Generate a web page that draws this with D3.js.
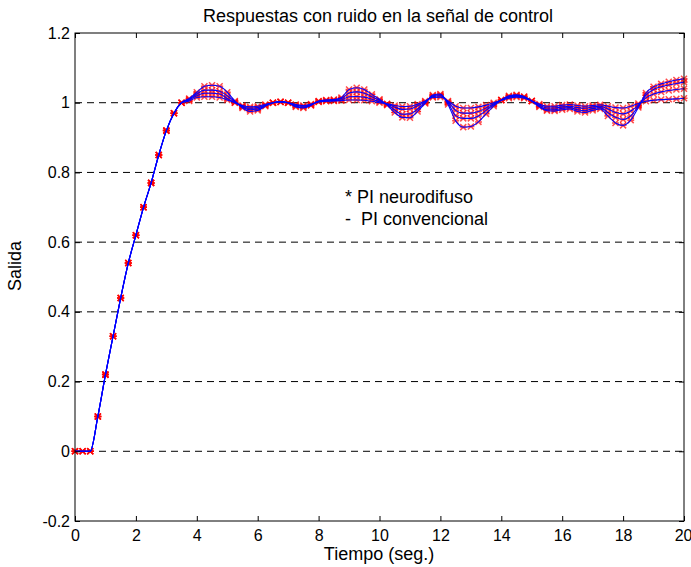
<!DOCTYPE html>
<html>
<head>
<meta charset="utf-8">
<script src="https://cdn.jsdelivr.net/npm/d3@7"></script>
<style>
  body { margin: 0; background: #fff; }
  text { font-family: "Liberation Sans", Arial, sans-serif; }
</style>
</head>
<body>
<div id="chart"></div>
<script>
var width = 691, height = 567;

// time axis (seg.)
var times = [0,0.25,0.5,0.75,1,1.25,1.5,1.75,2,2.25,2.5,2.75,3,3.25,3.5,3.75,
             4,4.25,4.5,4.75,5,5.25,5.5,5.75,6,6.25,6.5,6.75,7,7.25,7.5,7.75,
             8,8.25,8.5,8.75,9,9.25,9.5,9.75,10,10.25,10.5,10.75,11,11.25,11.5,11.75,
             12,12.25,12.5,12.75,13,13.25,13.5,13.75,14,14.25,14.5,14.75,15,15.25,15.5,15.75,
             16,16.25,16.5,16.75,17,17.25,17.5,17.75,18,18.25,18.5,18.75,19,19.25,19.5,19.75,
             20];

// responses for the different noise levels (smallest to largest deviation)
var respA = [0,0,0,0.10,0.22,0.33,0.44,0.54,0.62,0.70,0.77,0.85,0.92,0.97,1.00,1.005,
             1.015,1.017,1.017,1.015,1.008,1.0,0.992,0.988,0.99,0.995,1.0,1.002,1.0,0.995,0.992,0.996,
             1.002,1.004,1.005,1.006,1.008,1.008,1.007,1.004,1.0,0.997,0.992,0.989,0.99,0.996,1.005,1.015,
             1.016,1.005,0.99,0.985,0.985,0.988,0.993,1.0,1.007,1.013,1.016,1.013,1.005,0.996,0.99,0.99,
             0.993,0.995,0.992,0.99,0.992,0.994,0.99,0.986,0.985,0.99,0.998,1.004,1.007,1.009,1.01,1.011,
             1.013];
var respB = [0,0,0,0.10,0.22,0.33,0.44,0.54,0.62,0.70,0.77,0.85,0.92,0.97,1.00,1.008,
             1.02,1.027,1.027,1.025,1.012,1.0,0.99,0.984,0.986,0.993,1.0,1.002,1.0,0.993,0.99,0.995,
             1.003,1.005,1.006,1.008,1.017,1.018,1.016,1.01,1.003,0.996,0.987,0.981,0.982,0.991,1.003,1.017,
             1.02,1.003,0.978,0.97,0.97,0.975,0.985,0.997,1.008,1.016,1.019,1.015,1.005,0.993,0.985,0.985,
             0.988,0.99,0.986,0.984,0.988,0.99,0.982,0.972,0.968,0.976,0.993,1.014,1.025,1.031,1.035,1.038,
             1.04];
var respC = [0,0,0,0.10,0.22,0.33,0.44,0.54,0.62,0.70,0.77,0.85,0.92,0.97,1.00,1.01,
             1.025,1.036,1.036,1.033,1.02,1.003,0.988,0.98,0.982,0.992,1.0,1.003,1.0,0.99,0.987,0.993,
             1.004,1.007,1.008,1.012,1.028,1.031,1.027,1.017,1.007,0.995,0.979,0.967,0.968,0.982,1.0,1.02,
             1.023,1.0,0.963,0.955,0.955,0.962,0.978,0.994,1.008,1.018,1.021,1.017,1.005,0.99,0.98,0.98,
             0.984,0.986,0.98,0.977,0.983,0.986,0.972,0.958,0.952,0.962,0.99,1.022,1.038,1.046,1.051,1.055,
             1.059];
var respD = [0,0,0,0.10,0.22,0.33,0.44,0.54,0.62,0.70,0.77,0.85,0.92,0.97,1.00,1.012,
             1.03,1.047,1.05,1.047,1.03,1.005,0.985,0.975,0.978,0.99,1.0,1.003,1.0,0.988,0.985,0.992,
             1.005,1.008,1.009,1.015,1.038,1.043,1.038,1.024,1.01,0.993,0.972,0.958,0.957,0.975,0.998,1.022,
             1.025,0.995,0.948,0.93,0.932,0.945,0.968,0.99,1.008,1.02,1.023,1.018,1.005,0.988,0.977,0.976,
             0.98,0.982,0.975,0.972,0.978,0.982,0.962,0.942,0.935,0.95,0.986,1.028,1.046,1.054,1.06,1.065,
             1.069];

var xTicks = [0,2,4,6,8,10,12,14,16,18,20];
var yTicks = [-0.2,0,0.2,0.4,0.6,0.8,1,1.2];
var gridLevels = [0,0.2,0.4,0.6,0.8,1];

var titleText = "Respuestas con ruido en la señal de control";
var xLabel = "Tiempo (seg.)";
var yLabel = "Salida";
var legendLines = ["* PI neurodifuso", "-  PI convencional"];

// plot box (note: "top" is a reserved window property, so use other names)
var plotL = 75, plotR = 684, plotT = 33, plotB = 521;

var svg = d3.select("#chart")
            .append("svg")
            .attr("width", width)
            .attr("height", height);

var x = d3.scaleLinear().domain([0, 20]).range([plotL, plotR]);
var y = d3.scaleLinear().domain([-0.2, 1.2]).range([plotB, plotT]);

// dashed horizontal grid
svg.selectAll("line.grid")
   .data(gridLevels)
   .enter()
   .append("line")
   .attr("class", "grid")
   .attr("x1", plotL)
   .attr("x2", plotR)
   .attr("y1", function(d) { return y(d); })
   .attr("y2", function(d) { return y(d); })
   .attr("stroke", "#000")
   .attr("stroke-width", 1)
   .attr("stroke-dasharray", "7,5");

var series = [respA, respB, respC, respD];

// red asterisk markers (drawn first, lines go on top)
var star = "M-3,-3L3,3M-3,3L3,-3M-3.5,0L3.5,0";
series.forEach(function(s) {
  svg.append("g")
     .selectAll("path")
     .data(times)
     .enter()
     .append("path")
     .attr("d", star)
     .attr("transform", function(d, i) {
        return "translate(" + x(d) + "," + y(s[i]) + ")";
     })
     .attr("stroke", "#ff0000")
     .attr("stroke-opacity", 0.7)
     .attr("stroke-width", 1.5)
     .attr("fill", "none");
});

var line = d3.line()
             .x(function(d, i) { return x(times[i]); })
             .y(function(d) { return y(d); })
             .curve(d3.curveMonotoneX);

series.forEach(function(s) {
  svg.append("path")
     .attr("d", line(s))
     .attr("fill", "none")
     .attr("stroke", "#0000ff")
     .attr("stroke-width", 1.1);
});

// axes box
svg.append("rect")
   .attr("x", plotL)
   .attr("y", plotT)
   .attr("width", plotR - plotL)
   .attr("height", plotB - plotT)
   .attr("fill", "none")
   .attr("stroke", "#000")
   .attr("stroke-width", 1);

var xAxis = svg.append("g")
   .attr("transform", "translate(0," + plotB + ")")
   .call(d3.axisBottom(x).tickValues(xTicks).tickFormat(d3.format("d"))
           .tickSizeInner(-5).tickSizeOuter(0).tickPadding(9));
var xTop = svg.append("g")
   .attr("transform", "translate(0," + plotT + ")")
   .call(d3.axisTop(x).tickValues(xTicks).tickFormat("")
           .tickSizeInner(-5).tickSizeOuter(0));
var yAxis = svg.append("g")
   .attr("transform", "translate(" + plotL + ",0)")
   .call(d3.axisLeft(y).tickValues(yTicks).tickFormat(function(d) { return String(+d.toFixed(1)); })
           .tickSizeInner(-5).tickSizeOuter(0).tickPadding(5));
var yRight = svg.append("g")
   .attr("transform", "translate(" + plotR + ",0)")
   .call(d3.axisRight(y).tickValues(yTicks).tickFormat("")
           .tickSizeInner(-5).tickSizeOuter(0));

[xAxis, xTop, yAxis, yRight].forEach(function(g) {
  g.select(".domain").remove();
  g.selectAll("line").attr("stroke", "#000");
  g.selectAll("text")
   .attr("fill", "#000")
   .style("font-family", "'Liberation Sans', Arial, sans-serif")
   .style("font-size", "16px");
});
// keep the last x label inside the picture
xAxis.selectAll(".tick text").filter(function(d) { return d === 20; })
     .attr("text-anchor", "end").attr("dx", "8");

svg.append("text")
   .attr("x", 378)
   .attr("y", 22)
   .attr("text-anchor", "middle")
   .style("font-size", "18px")
   .text(titleText);

svg.append("text")
   .attr("x", 379)
   .attr("y", 560)
   .attr("text-anchor", "middle")
   .style("font-size", "18px")
   .text(xLabel);

svg.append("text")
   .attr("transform", "translate(21,266) rotate(-90)")
   .attr("text-anchor", "middle")
   .style("font-size", "18px")
   .text(yLabel);

svg.selectAll("text.legend")
   .data(legendLines)
   .enter()
   .append("text")
   .attr("class", "legend")
   .attr("x", 345)
   .attr("y", function(d, i) { return 203 + i * 22; })
   .attr("xml:space", "preserve")
   .style("white-space", "pre")
   .style("font-size", "18px")
   .text(function(d) { return d; });
</script>
</body>
</html>
